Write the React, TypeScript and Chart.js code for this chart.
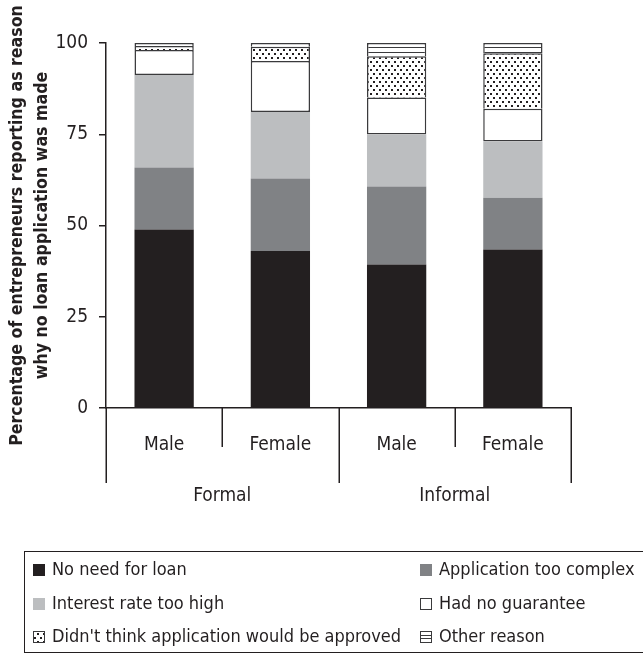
import React, { useEffect, useRef } from "react";
import { Chart, registerables } from "chart.js";

Chart.register(...registerables);

const categories = ["Male", "Female", "Male", "Female"];
const groupLabels = ["Formal", "Informal"];
const seriesLabels = [
  "No need for loan",
  "Application too complex",
  "Interest rate too high",
  "Had no guarantee",
  "Didn't think application would be approved",
  "Other reason",
];
const noNeedForLoan = [48.9, 43.0, 39.3, 43.4];
const applicationTooComplex = [17.0, 19.9, 21.4, 14.2];
const interestRateTooHigh = [25.3, 18.2, 14.2, 15.4];
const hadNoGuarantee = [6.9, 14.0, 10.2, 9.0];
const didntThinkApproved = [1.1, 3.9, 11.3, 15.2];
const otherReason = [0.8, 1.0, 3.6, 2.8];
const yTickValues = [0, 25, 50, 75, 100];
const yTitleLines = [
  "Percentage of entrepreneurs reporting as reason",
  "why no loan application was made",
];

const FONT = '"DejaVu Sans Condensed", "DejaVu Sans", sans-serif';
const INK = "#231f20";
const DARK = "#808285";
const LIGHT = "#bcbec0";
const EDGE = "#3a3a3c";
const FS = 19;
const LEG_FS = 18;
const TITLE_FS = 17.6;

function makeDotPattern(ctx: CanvasRenderingContext2D) {
  const c = document.createElement("canvas");
  c.width = 6;
  c.height = 8;
  const g = c.getContext("2d")!;
  g.fillStyle = "#ffffff";
  g.fillRect(0, 0, 6, 8);
  g.fillStyle = INK;
  g.fillRect(1, 1, 2, 2);
  g.fillRect(4, 5, 2, 2);
  return ctx.createPattern(c, "repeat")!;
}

function makeLinePattern(ctx: CanvasRenderingContext2D) {
  const c = document.createElement("canvas");
  c.width = 4;
  c.height = 5;
  const g = c.getContext("2d")!;
  g.fillStyle = "#ffffff";
  g.fillRect(0, 0, 4, 5);
  g.fillStyle = EDGE;
  g.fillRect(0, 2, 4, 1);
  return ctx.createPattern(c, "repeat")!;
}

export default function App() {
  const ref = useRef<HTMLCanvasElement>(null);

  useEffect(() => {
    const canvas = ref.current!;
    const ctx0 = canvas.getContext("2d")!;
    const dot = makeDotPattern(ctx0);
    const lines = makeLinePattern(ctx0);
    const fills: any[] = [INK, DARK, LIGHT, "#ffffff", dot, lines];
    const series = [
      noNeedForLoan,
      applicationTooComplex,
      interestRateTooHigh,
      hadNoGuarantee,
      didntThinkApproved,
      otherReason,
    ];

    const custom = {
      id: "customDecor",
      afterDraw(chart: any) {
        const ctx: CanvasRenderingContext2D = chart.ctx;
        const xs = chart.scales.x;
        const area = chart.chartArea;
        ctx.save();
        // category separators
        ctx.strokeStyle = INK;
        ctx.lineWidth = 1.5;
        for (let i = 0; i <= categories.length; i++) {
          const px = Math.round(xs.getPixelForValue(i - 0.5)) + 0.25;
          const long = i % 2 === 0;
          ctx.beginPath();
          ctx.moveTo(px, area.bottom);
          ctx.lineTo(px, long ? 483 : 447);
          ctx.stroke();
        }
        // group labels
        ctx.fillStyle = INK;
        ctx.font = `${FS}px ${FONT}`;
        ctx.textAlign = "center";
        ctx.textBaseline = "alphabetic";
        groupLabels.forEach((g, gi) => {
          const a = xs.getPixelForValue(gi * 2 - 0.5);
          const b = xs.getPixelForValue(gi * 2 + 1.5);
          ctx.fillText(g, (a + b) / 2, 501);
        });
        // y title
        const cy = (area.top + area.bottom) / 2;
        ctx.font = `bold ${TITLE_FS}px ${FONT}`;
        ctx.textBaseline = "middle";
        const tx = [17.5, 42.5];
        yTitleLines.forEach((t, i) => {
          ctx.save();
          ctx.translate(tx[i], cy);
          ctx.rotate(-Math.PI / 2);
          ctx.fillText(t, 0, 0);
          ctx.restore();
        });
        // legend
        ctx.lineWidth = 1;
        ctx.strokeStyle = INK;
        ctx.strokeRect(24.5, 551.5, 700, 101);
        const cols = [
          { sx: 33, tx: 52 },
          { sx: 420, tx: 439 },
        ];
        const rows = [575, 609, 642];
        ctx.font = `${LEG_FS}px ${FONT}`;
        ctx.textAlign = "left";
        ctx.textBaseline = "alphabetic";
        seriesLabels.forEach((lab, i) => {
          const col = cols[i % 2];
          const by = rows[Math.floor(i / 2)];
          const sx = col.sx;
          const sy = by - 11;
          const s = 12;
          if (i < 3) {
            ctx.fillStyle = fills[i];
            ctx.fillRect(sx, sy, s, s);
          } else {
            ctx.fillStyle = i === 4 ? dot : "#ffffff";
            ctx.fillRect(sx, sy, s, s);
            ctx.strokeStyle = EDGE;
            ctx.lineWidth = 1;
            ctx.strokeRect(sx + 0.5, sy + 0.5, s - 1, s - 1);
            if (i === 5) {
              ctx.beginPath();
              ctx.moveTo(sx, sy + 4.5);
              ctx.lineTo(sx + s, sy + 4.5);
              ctx.moveTo(sx, sy + 7.5);
              ctx.lineTo(sx + s, sy + 7.5);
              ctx.stroke();
            }
          }
          ctx.fillStyle = INK;
          ctx.fillText(lab, col.tx, by);
        });
        ctx.restore();
      },
    };

    const chart = new Chart(canvas, {
      type: "bar",
      data: {
        labels: categories,
        datasets: series.map((d, i) => ({
          label: seriesLabels[i],
          data: d,
          backgroundColor: fills[i],
          borderColor: EDGE,
          borderWidth: i >= 3 ? 1.5 : 0,
          borderSkipped: i === 3 ? false : "start",
          barPercentage: 0.51,
          categoryPercentage: 1,
        })) as any,
      },
      options: {
        responsive: false,
        animation: false,
        devicePixelRatio: 1,
        layout: { padding: { top: 43, right: 72, bottom: 0, left: 0 } },
        plugins: { legend: { display: false }, tooltip: { enabled: false } },
        scales: {
          x: {
            stacked: true,
            grid: { display: false, drawTicks: false },
            border: { display: true, color: INK, width: 1.5 },
            ticks: { color: INK, font: { family: FONT, size: FS }, padding: 26 },
            afterFit: (s: any) => {
              s.height = 246;
            },
          },
          y: {
            stacked: true,
            min: 0,
            max: 100,
            afterBuildTicks: (s: any) => {
              s.ticks = yTickValues.map((v) => ({ value: v }));
            },
            grid: { drawOnChartArea: false, drawTicks: true, tickLength: 7, color: INK, lineWidth: 1.5 },
            border: { display: true, color: INK, width: 1.5 },
            ticks: { color: INK, font: { family: FONT, size: FS }, padding: 11 },
            afterFit: (s: any) => {
              s.width = 106;
            },
          },
        },
      } as any,
      plugins: [custom],
    });
    return () => chart.destroy();
  }, []);

  return (
    <div style={{ position: "fixed", left: 0, top: 0, width: 643, height: 654, background: "#ffffff" }}>
      <canvas ref={ref} width={643} height={654} style={{ display: "block" }} />
    </div>
  );
}
